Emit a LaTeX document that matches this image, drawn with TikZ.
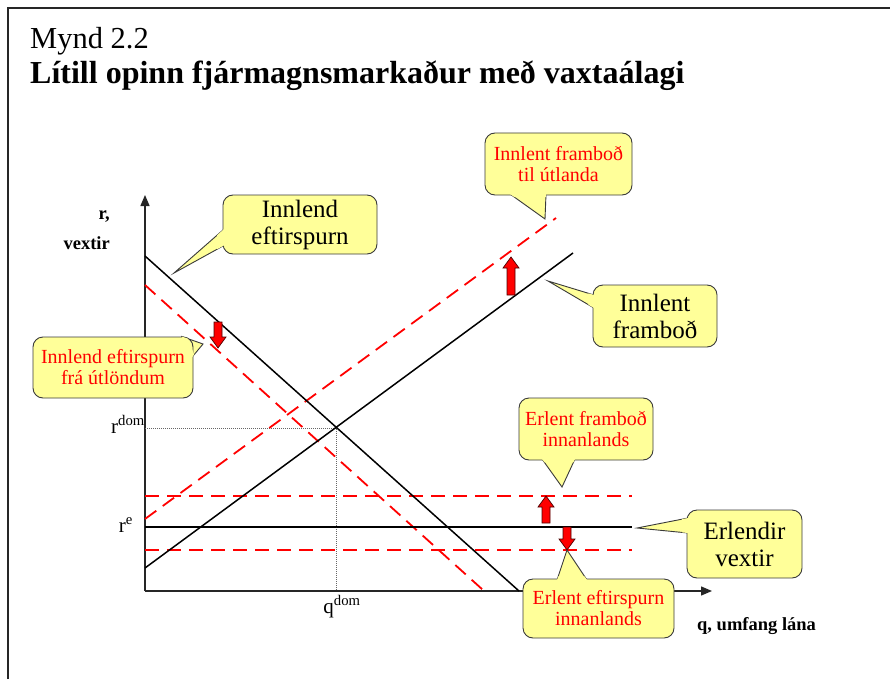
\documentclass[tikz,border=0pt]{standalone}
\usepackage{fontspec}
\setmainfont{Liberation Serif}
\usetikzlibrary{arrows.meta,calc}
\definecolor{bubbleyellow}{HTML}{FFFF99}
\definecolor{bubbleline}{HTML}{3A3A3A}
\tikzset{
  frame/.style={line width=1.6pt,black!85},
  axis/.style={line width=1.4pt,black!85,-{Triangle[length=11pt,width=9pt]}},
  curve/.style={line width=1.5pt},
  shifted/.style={line width=1.8pt,red,dash pattern=on 14pt off 8pt},
  guide/.style={line width=.8pt,black!60,dash pattern=on 1pt off 1pt},
  bubble/.style={rounded corners=10pt,fill=bubbleyellow,draw=bubbleline,line width=.9pt,align=center,inner sep=0pt},
  bubble line/.style={fill=bubbleyellow,draw=bubbleline,line width=.9pt},
  bigtext/.style={font=\fontsize{25}{27}\selectfont},
  redtext/.style={font=\fontsize{20}{21}\selectfont,text=red},
  axislabel/.style={font=\bfseries\fontsize{18.5}{30}\selectfont},
  ticklabel/.style={font=\fontsize{21}{21}\selectfont,inner sep=0pt},
  shiftarrow/.style={fill=red,draw=black!70!red,line width=.7pt},
  pics/movearrow/.style={code={
    \draw[shiftarrow] (-4,0) -- (-4,{#1-11}) -- (-8,{#1-11}) -- (0,#1) -- (8,{#1-11}) -- (4,{#1-11}) -- (4,0) -- cycle;}}
}
% talbola: stíll, nafn, staður, texti, oddur, tveir punktar á jaðri
\newcommand{\speech}[7]{%
  \filldraw[bubble line] (#5) -- ($(#5)!1.25!(#6)$) -- ($(#5)!1.25!(#7)$) -- cycle;
  \node[bubble,#1] (#2) at (#3) {#4};
  \fill[bubbleyellow] ($(#5)!1.25!(#6)$) -- ($(#5)!1.25!(#7)$) -- ($(#5)!.88!(#7)$) -- ($(#5)!.88!(#6)$) -- cycle;
}
\begin{document}
\begin{tikzpicture}[x=1pt,y=-1pt]
  \useasboundingbox (0,0) rectangle (890,679);
  \draw[frame] (8,679) -- (8,8) -- (890,8);
  % Fyrirsögn
  \node[anchor=base west,inner sep=0pt,font=\fontsize{30.5}{30}\selectfont] (nr) at (30,49) {Mynd 2.2};
  \node[anchor=base west,inner sep=0pt,font=\bfseries\fontsize{32}{32}\selectfont] (heiti) at (30,84) {Lítill opinn fjármagnsmarkaður með vaxtaálagi};
  % Ásar
  \coordinate (O) at (145,591);
  \coordinate (ytop) at (145,195);
  \coordinate (xend) at (712,591);
  \draw[axis] (O) -- (ytop);
  \draw[axis] (O) -- (xend);
  \node[axislabel,align=right,anchor=base east,inner sep=0pt] (rlab) at (110,249) {r,\\vextir};
  \node[axislabel,anchor=base west,inner sep=0pt] (qlab) at (697,630) {q, umfang lána};
  % Ferlar
  \coordinate (E) at (336,428);
  \draw[guide] (O |- E) -- (E) -- (E |- O);
  \draw[shifted] (145,285) -- (483,590);
  \draw[shifted] (145,519) -- (556,218);
  \draw[shifted] (145,496) -- (632,496);
  \draw[shifted] (145,550) -- (632,550);
  \draw[curve] (145,256) -- (519,591);
  \draw[curve] (145,568) -- (573,253);
  \draw[curve] (145,527) -- (632,527);
  \node[ticklabel,anchor=base east] (rdom) at (145,433) {r\textsuperscript{dom}};
  \node[ticklabel,anchor=base east] (re) at (133,532) {r\textsuperscript{e}};
  \node[ticklabel,anchor=base] (qdom) at (342,613) {q\textsuperscript{dom}};
  % Hliðrun
  \pic at (218,322) {movearrow=26};
  \pic[rotate=180] at (511,295) {movearrow=38};
  \pic[rotate=180] at (546,523) {movearrow=27};
  \pic at (567,527) {movearrow=23};
  % Talbólur
  \coordinate (tipD) at (174,273);
  \coordinate (tipDu) at (203,344);
  \coordinate (tipSu) at (545,219);
  \coordinate (tipS) at (548,281);
  \coordinate (tipFs) at (562,487);
  \coordinate (tipFr) at (637,528);
  \coordinate (tipFd) at (567,550);
  \speech{bigtext,minimum width=154pt,minimum height=59pt}{innlEft}{300,224.5}{Innlend\\eftirspurn}{tipD}{223,230}{223,246}
  \speech{redtext,minimum width=160pt,minimum height=61pt}{utlEft}{113,367.5}{Innlend eftirspurn\\frá útlöndum}{tipDu}{186,338}{193,356}
  \speech{redtext,minimum width=147pt,minimum height=62pt}{utlFramb}{558.5,164}{Innlent framboð\\til útlanda}{tipSu}{510,194}{546,194}
  \speech{bigtext,minimum width=124pt,minimum height=62pt}{innlFramb}{655,316}{Innlent\\framboð}{tipS}{594,295}{594,308}
  \speech{redtext,minimum width=134pt,minimum height=62pt}{erlFramb}{586,429}{Erlent framboð\\innanlands}{tipFs}{542,459}{575,459}
  \speech{bigtext,minimum width=115pt,minimum height=68pt}{erlVextir}{744.5,544}{Erlendir\\vextir}{tipFr}{688,518}{688,533}
  \speech{redtext,minimum width=151pt,minimum height=59pt}{erlEft}{598.5,608.5}{Erlent eftirspurn\\innanlands}{tipFd}{557,580}{587,580}
\end{tikzpicture}
\end{document}
